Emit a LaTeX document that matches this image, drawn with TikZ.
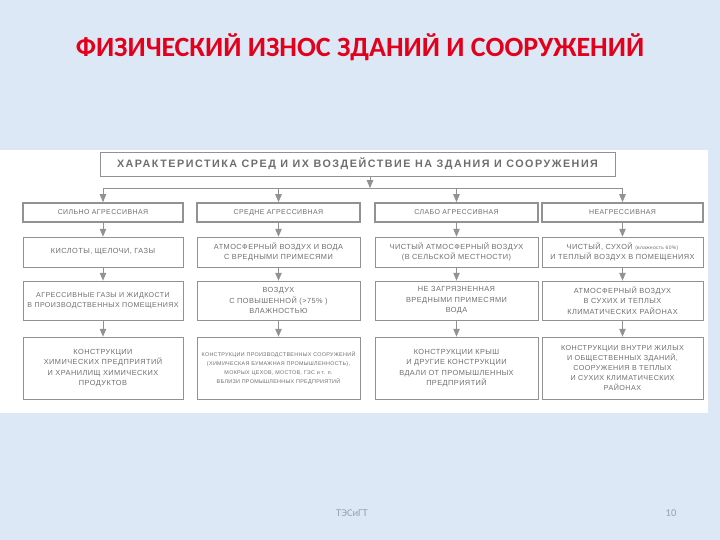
\documentclass[tikz,border=0pt]{standalone}
\usepackage{fontspec}
\setmainfont{Liberation Sans}
\newfontfamily\titlefont{Carlito}
\newfontfamily\boxfont[LetterSpace=6]{Liberation Sans}
\newfontfamily\headfont[LetterSpace=14]{Liberation Sans}
\usetikzlibrary{arrows,shapes}
\definecolor{slidebg}{HTML}{DCE8F6}
\definecolor{scanline}{HTML}{929292}
\definecolor{scantext}{HTML}{6E6E6E}
\definecolor{titlered}{HTML}{E3001B}
\definecolor{footgray}{HTML}{98A0AA}

\begin{document}
\begin{tikzpicture}[x=1bp,y=-1bp,
	headbox/.style={draw=scanline,line width=0.9bp,minimum width=515bp,minimum height=24bp,inner sep=0pt,text=scantext,font=\headfont\bfseries\fontsize{10.8}{12}\selectfont},
	typebox/.style={draw=scanline,line width=1.8bp,minimum width=160bp,minimum height=19bp,inner sep=0pt,text=scantext,align=center,font=\boxfont\fontsize{7}{9}\selectfont},
	envbox/.style={draw=scanline,line width=0.7bp,minimum width=161bp,inner sep=0pt,text=scantext,align=center,font=\boxfont\fontsize{7.4}{10.5}\selectfont},
	flow/.style={->,>=triangle 45,draw=scanline,line width=0.8bp}]
	\useasboundingbox (0,0) rectangle (720,540);
	\fill[slidebg] (0,0) rectangle (720,540);
	\fill[white] (0,150) rectangle (708,413);

	\node[font=\titlefont\bfseries\fontsize{28}{32}\selectfont,text=titlered] (title) at (360,47) {ФИЗИЧЕСКИЙ ИЗНОС ЗДАНИЙ И СООРУЖЕНИЙ};

	\node[headbox] (head) at (357.5,164) {ХАРАКТЕРИСТИКА СРЕД И ИХ ВОЗДЕЙСТВИЕ НА ЗДАНИЯ И СООРУЖЕНИЯ};

	% degree of aggressiveness
	\node[typebox] (t1) at (103,212.5) {СИЛЬНО АГРЕССИВНАЯ};
	\node[typebox,minimum width=163bp] (t2) at (278.5,212.5) {СРЕДНЕ АГРЕССИВНАЯ};
	\node[typebox,minimum width=163bp] (t3) at (456.5,212.5) {СЛАБО АГРЕССИВНАЯ};
	\node[typebox,minimum width=161bp] (t4) at (622.5,212.5) {НЕАГРЕССИВНАЯ};

	% environment
	\node[envbox,minimum height=30bp,minimum width=160bp] (e1) at (103,252) {КИСЛОТЫ, ЩЕЛОЧИ, ГАЗЫ};
	\node[envbox,minimum height=30bp,minimum width=163bp] (e2) at (278.5,252) {АТМОСФЕРНЫЙ ВОЗДУХ И ВОДА\\С ВРЕДНЫМИ ПРИМЕСЯМИ};
	\node[envbox,minimum height=30bp,minimum width=163bp] (e3) at (456.5,252) {ЧИСТЫЙ АТМОСФЕРНЫЙ ВОЗДУХ\\(В СЕЛЬСКОЙ МЕСТНОСТИ)};
	\node[envbox,minimum height=30bp] (e4) at (622.5,252) {ЧИСТЫЙ, СУХОЙ {\fontsize{5}{6}\selectfont(влажность 60\%)}\\И ТЕПЛЫЙ ВОЗДУХ В ПОМЕЩЕНИЯХ};

	% media
	\node[envbox,minimum height=39bp,minimum width=160bp,font=\boxfont\fontsize{7.1}{10.5}\selectfont] (m1) at (103,300.5) {АГРЕССИВНЫЕ ГАЗЫ И ЖИДКОСТИ\\В ПРОИЗВОДСТВЕННЫХ ПОМЕЩЕНИЯХ};
	\node[envbox,minimum height=39bp,minimum width=163bp] (m2) at (278.5,300.5) {ВОЗДУХ\\С ПОВЫШЕННОЙ (>75\% )\\ВЛАЖНОСТЬЮ};
	\node[envbox,minimum height=39bp,minimum width=163bp] (m3) at (456.5,300.5) {НЕ ЗАГРЯЗНЕННАЯ\\ВРЕДНЫМИ ПРИМЕСЯМИ\\ВОДА};
	\node[envbox,minimum height=39bp] (m4) at (622.5,300.5) {АТМОСФЕРНЫЙ ВОЗДУХ\\В СУХИХ И ТЕПЛЫХ\\КЛИМАТИЧЕСКИХ РАЙОНАХ};

	% structures
	\node[envbox,minimum height=62bp,minimum width=160bp] (c1) at (103,368) {КОНСТРУКЦИИ\\ХИМИЧЕСКИХ ПРЕДПРИЯТИЙ\\И ХРАНИЛИЩ ХИМИЧЕСКИХ\\ПРОДУКТОВ};
	\node[envbox,minimum height=62bp,minimum width=163bp,font=\boxfont\fontsize{5.4}{9}\selectfont] (c2) at (278.5,368) {КОНСТРУКЦИИ ПРОИЗВОДСТВЕННЫХ СООРУЖЕНИЙ\\(ХИМИЧЕСКАЯ БУМАЖНАЯ ПРОМЫШЛЕННОСТЬ),\\МОКРЫХ ЦЕХОВ, МОСТОВ, ГЭС и т. п.\\ВБЛИЗИ ПРОМЫШЛЕННЫХ ПРЕДПРИЯТИЙ};
	\node[envbox,minimum height=62bp,minimum width=163bp] (c3) at (456.5,368) {КОНСТРУКЦИИ КРЫШ\\И ДРУГИЕ КОНСТРУКЦИИ\\ВДАЛИ ОТ ПРОМЫШЛЕННЫХ\\ПРЕДПРИЯТИЙ};
	\node[envbox,minimum height=62bp,font=\boxfont\fontsize{7.2}{10}\selectfont] (c4) at (622.5,368) {КОНСТРУКЦИИ ВНУТРИ ЖИЛЫХ\\И ОБЩЕСТВЕННЫХ ЗДАНИЙ,\\СООРУЖЕНИЯ В ТЕПЛЫХ\\И СУХИХ КЛИМАТИЧЕСКИХ\\РАЙОНАХ};

	% distribution line
	\coordinate (busM) at (370,188);
	\coordinate (busL) at (103,188);
	\coordinate (busR) at (622.5,188);
	\draw[flow] (head.south -| busM) -- (busM);
	\draw[draw=scanline,line width=0.8bp] (busL) -- (busR);
	\draw[flow] (busL) -- (t1.north);
	\draw[flow] (t2.north |- busL) -- (t2.north);
	\draw[flow] (t3.north |- busL) -- (t3.north);
	\draw[flow] (busR) -- (t4.north);

	\foreach \col in {1,2,3,4}{
		\draw[flow] (t\col.south) -- (e\col.north);
		\draw[flow] (e\col.south) -- (m\col.north);
		\draw[flow] (m\col.south) -- (c\col.north);
	}

	\node[font=\titlefont\fontsize{10.5}{12}\selectfont,text=footgray] (foot) at (352,513) {ТЭСиГТ};
	\node[font=\titlefont\fontsize{10.5}{12}\selectfont,text=footgray] (page) at (671,513) {10};
\end{tikzpicture}
\end{document}
